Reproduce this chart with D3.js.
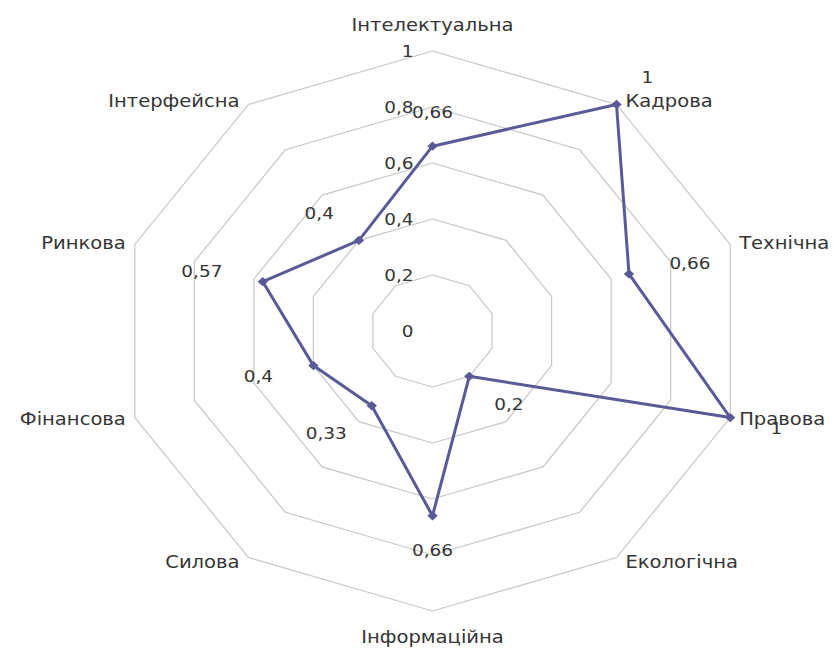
<!DOCTYPE html>
<html>
<head>
<meta charset="utf-8">
<script src="https://cdn.jsdelivr.net/npm/d3@7"></script>
<style>
  body { margin: 0; background: #fff; }
  text { font-family: "DejaVu Sans", Verdana, sans-serif; fill: #353535; }
</style>
</head>
<body>
<svg class="svg_radar" width="838" height="648"></svg>
<script>
// radar chart of security components (values from the picture)

var categories = ["Інтелектуальна", "Кадрова", "Технічна", "Правова", "Екологічна",
                  "Інформаційна", "Силова", "Фінансова", "Ринкова", "Інтерфейсна"];
var values = [0.66, 1, 0.66, 1, 0.2, 0.66, 0.33, 0.4, 0.57, 0.4];
var valueLabels = ["0,66", "1", "0,66", "1", "0,2", "0,66", "0,33", "0,4", "0,57", "0,4"];
var ticks = [0, 0.2, 0.4, 0.6, 0.8, 1];
var tickLabels = ["0", "0,2", "0,4", "0,6", "0,8", "1"];

function drawRadar() {
    var chart = d3.select(".svg_radar"),
        cx = 432.5, cy = 331,
        stretchX = 1.118,            // picture is wider than tall
        radius = 280;

    var g = chart.append("g")
        .attr("transform", "translate(" + cx + "," + cy + ") scale(" + stretchX + ",1)");

    var r = d3.scaleLinear().domain([0, 1]).range([0, radius]);
    var step = 2 * Math.PI / categories.length;
    function ang(i) { return i * step; }
    function px(i, v) { return Math.sin(ang(i)) * r(v); }
    function py(i, v) { return -Math.cos(ang(i)) * r(v); }
    function anchor(i) {
        var s = Math.sin(ang(i));
        return Math.abs(s) < 0.01 ? "middle" : (s > 0 ? "start" : "end");
    }

    // grid rings
    var ring = d3.line().curve(d3.curveLinearClosed);
    g.selectAll(".ring")
        .data(ticks.filter(function(t) { return t > 0; }))
        .enter().append("path")
          .attr("class", "ring")
          .attr("d", function(t) {
              return ring(categories.map(function(c, i) { return [px(i, t), py(i, t)]; }));
          })
          .attr("fill", "none")
          .attr("stroke", "#c6c6c6")
          .attr("stroke-width", 1.2)
          .attr("vector-effect", "non-scaling-stroke");

    // tick labels along top axis
    g.selectAll(".tick")
        .data(ticks)
        .enter().append("text")
          .attr("class", "tick")
          .attr("x", -17)
          .attr("y", function(t) { return -r(t); })
          .attr("dy", "0.35em")
          .attr("text-anchor", "end")
          .style("font-size", "16.5px")
          .text(function(t, i) { return tickLabels[i]; });

    // category labels
    g.selectAll(".cat")
        .data(categories)
        .enter().append("text")
          .attr("class", "cat")
          .attr("x", function(d, i) {
              var s = Math.sin(ang(i));
              if (Math.abs(s) < 0.01) return 0;
              return px(i, 1) + (s > 0 ? 8 : -8);
          })
          .attr("y", function(d, i) {
              var s = Math.sin(ang(i)), c = Math.cos(ang(i));
              if (Math.abs(s) < 0.01) return py(i, 1) - c * 26;
              return py(i, 1) - c * 5;
          })
          .attr("dy", "0.35em")
          .attr("text-anchor", function(d, i) { return anchor(i); })
          .style("font-size", "17.5px")
          .text(function(d) { return d; });

    // series line
    var line = d3.line().curve(d3.curveLinearClosed);
    g.append("path")
        .attr("d", line(values.map(function(v, i) { return [px(i, v), py(i, v)]; })))
        .attr("fill", "none")
        .attr("stroke", "#5a5a96")
        .attr("stroke-width", 3)
        .attr("stroke-linejoin", "round")
        .attr("vector-effect", "non-scaling-stroke");

    // markers
    g.selectAll(".marker")
        .data(values)
        .enter().append("path")
          .attr("class", "marker")
          .attr("d", d3.symbol().type(d3.symbolDiamond2).size(55))
          .attr("transform", function(v, i) { return "translate(" + px(i, v) + "," + py(i, v) + ")"; })
          .attr("fill", "#5a5a96");

    // value labels
    g.selectAll(".val")
        .data(values)
        .enter().append("text")
          .attr("class", "val")
          .attr("x", function(v, i) { return px(i, v) + Math.sin(ang(i)) * 38; })
          .attr("y", function(v, i) { return py(i, v) - Math.cos(ang(i)) * 34; })
          .attr("dy", "0.35em")
          .attr("text-anchor", function(v, i) { return anchor(i); })
          .style("font-size", "16.5px")
          .text(function(v, i) { return valueLabels[i]; });
}

drawRadar();
</script>
</body>
</html>
